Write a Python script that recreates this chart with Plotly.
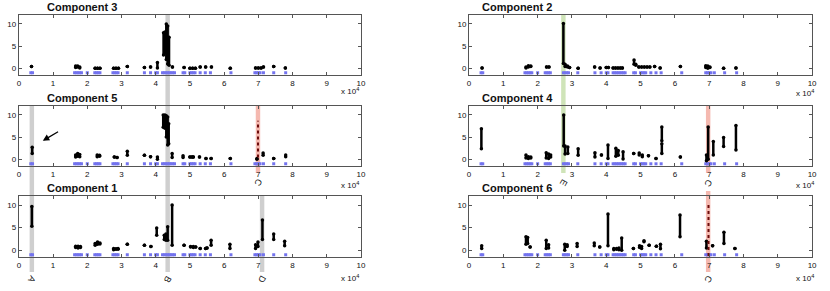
import plotly.graph_objects as go

# ---------------- data (x in units of 10^4) ----------------
X_TICKS = [0, 1, 2, 3, 4, 5, 6, 7, 8, 9, 10]
Y_TICKS = [0, 5, 10]

blue_x = [0.35, 0.40, 1.63, 1.68, 1.73, 1.78, 1.83, 2.00, 2.22, 2.27, 2.32, 2.37,
          2.75, 2.80, 2.85, 2.90, 3.17, 3.67, 3.85, 4.00, 4.05, 4.20, 4.25, 4.30,
          4.35, 4.40, 4.45, 4.50, 4.55, 4.80, 4.85, 5.00, 5.05, 5.10, 5.15, 5.30,
          5.45, 5.60, 6.20, 6.90, 6.95, 7.00, 7.05, 7.15, 7.45, 7.80]
BLUE_LEVEL = -1.0

# Component 3
c3_x  = [0.37, 1.66, 1.72, 1.78, 2.23, 2.30, 2.37, 2.77, 2.84, 2.91, 3.17, 3.67, 3.85, 4.05,
         4.23, 4.27, 4.31, 4.35, 4.39, 4.49, 4.83, 5.00, 5.08, 5.16, 5.30, 5.46, 5.63, 6.18,
         6.92, 7.00, 7.08, 7.15, 7.45, 7.79]
c3_lo = [0.4, 0.2, 0.3, 0.1, 0.0, 0.0, 0.0, 0.0, 0.0, 0.0, 0.4, 0.2, 0.3, 0.1,
         3.0, 3.5, 2.0, 1.0, 0.7, 0.3, 0.2, 0.0, 0.0, 0.0, 0.3, 0.3, 0.3, 0.0,
         0.1, 0.1, 0.1, 0.3, 0.4, 0.1]
c3_hi = [0.4, 0.5, 0.5, 0.3, 0.0, 0.0, 0.0, 0.0, 0.0, 0.0, 0.4, 0.2, 0.3, 1.3,
         8.0, 8.2, 10.0, 9.5, 7.0, 0.3, 0.2, 0.0, 0.0, 0.0, 0.3, 0.3, 0.3, 0.0,
         0.1, 0.1, 0.1, 0.3, 0.4, 0.1]

# Component 5
c5_x  = [0.39, 1.66, 1.72, 1.78, 2.29, 2.36, 2.79, 2.87, 3.17, 3.67, 3.85, 4.05,
         4.22, 4.27, 4.31, 4.35, 4.38, 4.48, 4.80, 5.00, 5.06, 5.10, 5.28, 5.47, 5.62,
         6.18, 6.96, 7.14, 7.45, 7.80]
c5_lo = [1.3, 0.5, 0.7, 0.6, 0.6, 0.7, 0.5, 0.4, 0.9, 0.9, 0.6, 0.0,
         7.2, 7.0, 5.0, 3.2, 3.5, 0.4, 0.4, 0.5, 0.5, 0.5, 0.5, 0.2, 0.2,
         0.2, 0.0, 0.9, 0.2, 0.6]
c5_hi = [2.7, 1.0, 1.3, 1.1, 1.0, 0.9, 0.5, 0.4, 1.8, 0.9, 0.6, 0.5,
         10.0, 10.0, 9.8, 9.5, 8.0, 1.3, 0.8, 0.5, 0.5, 0.5, 0.5, 0.2, 0.2,
         0.2, 0.2, 1.4, 0.2, 1.0]
c5_hl_x, c5_hl_lo, c5_hl_hi = [6.99], [0.4], [8.7]

# Component 1
c1_x  = [0.38, 1.66, 1.73, 1.80, 2.23, 2.30, 2.37, 2.77, 2.84, 2.90, 3.17, 3.67, 3.86,
         4.03, 4.25, 4.30, 4.35, 4.48, 4.83, 5.02, 5.10, 5.17, 5.30, 5.46, 5.50, 5.62,
         6.17, 6.92, 6.99, 7.12, 7.45, 7.77]
c1_lo = [5.3, 0.6, 0.5, 0.6, 1.1, 1.3, 1.4, 0.1, 0.2, 0.2, 1.3, 1.1, 0.8,
         3.3, 2.4, 2.2, 2.2, 1.1, 1.1, 0.7, 0.6, 0.7, 0.4, 0.4, 0.5, 1.1,
         0.4, 0.4, 0.8, 2.4, 2.4, 1.0]
c1_hi = [9.7, 0.9, 0.9, 0.8, 1.5, 1.8, 1.6, 0.4, 0.3, 0.4, 1.3, 1.1, 0.8,
         4.9, 3.3, 3.6, 5.2, 10.0, 1.1, 0.8, 0.8, 0.7, 0.4, 0.4, 0.5, 2.2,
         1.3, 1.2, 1.8, 6.7, 3.6, 2.0]

# Component 2
c2_x  = [0.38, 1.66, 1.73, 1.80, 2.26, 2.33, 2.75, 2.80, 2.87, 2.93, 3.18, 3.66, 3.82,
         4.00, 4.06, 4.20, 4.27, 4.34, 4.41, 4.47, 4.81, 4.86, 4.95, 5.03, 5.11, 5.19,
         5.27, 5.41, 5.57, 6.16, 6.90, 6.96, 7.02, 7.42, 7.78]
c2_lo = [0.1, 0.1, 0.3, 0.4, 0.3, 0.3, 1.1, 0.4, 0.3, 0.2, 0.0, 0.3, 0.1,
         0.2, 0.2, 0.1, 0.1, 0.1, 0.1, 0.1, 0.9, 0.7, 0.3, 0.3, 0.3, 0.3,
         0.3, 0.4, 0.1, 0.4, 0.2, 0.0, 0.2, 0.0, 0.1]
c2_hi = [0.1, 0.3, 0.6, 0.5, 0.3, 0.3, 10.1, 0.9, 0.5, 0.2, 0.0, 0.3, 0.1,
         0.2, 0.2, 0.1, 0.1, 0.1, 0.1, 0.1, 1.9, 0.9, 0.3, 0.3, 0.3, 0.3,
         0.3, 0.4, 0.1, 0.4, 0.6, 0.5, 0.3, 0.0, 0.1]

# Component 4
c4_x  = [0.36, 1.66, 1.73, 1.80, 2.25, 2.32, 2.38, 2.76, 2.80, 2.88, 3.18, 3.67, 3.86,
         4.05, 4.28, 4.35, 4.49, 4.80, 4.96, 5.05, 5.23, 5.45, 5.62, 5.62, 6.16,
         6.92, 6.97, 7.12, 7.42, 7.78]
c4_lo = [2.4, 0.3, 0.2, 0.3, 0.3, 0.2, 0.5, 3.0, 1.2, 1.3, 0.9, 0.5, 1.0,
         0.2, 0.7, 0.9, 0.1, 1.3, 1.0, 0.6, 0.8, 0.2, 1.3, 4.2, 0.5,
         -0.3, 0.0, 1.0, 2.9, 2.1]
c4_hi = [6.9, 1.0, 0.6, 0.5, 1.5, 1.2, 1.0, 10.0, 3.0, 2.8, 2.4, 1.5, 1.0,
         3.2, 2.5, 2.0, 1.7, 1.3, 1.4, 1.0, 0.8, 0.2, 3.5, 7.3, 0.5,
         1.0, 7.3, 4.0, 4.9, 7.6]

# Component 6
c6_x  = [0.37, 1.66, 1.71, 1.78, 2.25, 2.32, 2.79, 2.86, 3.15, 3.65, 3.81, 4.05,
         4.22, 4.30, 4.37, 4.45, 4.79, 4.97, 5.03, 5.10, 5.25, 5.46, 5.58,
         6.15, 6.92, 7.10, 7.43, 7.75]
c6_lo = [0.4, 1.3, 1.5, 0.7, 0.4, 0.5, 0.0, 0.8, 0.8, 1.0, 0.7, 1.0,
         0.1, 0.2, 0.1, 0.0, 0.4, 0.6, 0.4, 1.9, 1.1, 0.9, 0.3,
         3.0, 0.5, 1.0, 1.5, 0.4]
c6_hi = [1.0, 3.0, 2.8, 0.7, 2.2, 1.2, 1.3, 1.2, 1.5, 1.6, 0.7, 8.0,
         0.4, 0.4, 0.5, 2.7, 0.4, 1.0, 0.8, 2.1, 1.1, 0.9, 1.3,
         7.8, 2.0, 1.0, 4.0, 0.4]
c6_hl_x, c6_hl_lo, c6_hl_hi = [6.98], [-1.3], [10.0]

titles = ["Component 3", "Component 2", "Component 5",
          "Component 4", "Component 1", "Component 6"]

# highlighted bands: (panel column, x centre, colour name, top row, bottom row, label)
band_col   = ["L", "L", "L", "L", "R", "R", "R"]
band_x     = [0.38, 4.35, 7.11, 6.99, 2.75, 6.97, 6.97]
band_kind  = ["gray", "gray", "gray", "red", "green", "red", "red"]
band_top   = [2, 1, 3, 2, 1, 2, 3]
band_bot   = [3, 3, 3, 2, 2, 2, 3]
band_label = ["A", "B", "D", "C", "E", "C", "C"]

# ---------------- layout geometry ----------------
W, H = 830, 291
FONT = "Liberation Sans, Arial, Helvetica, sans-serif"
col_px = {"L": (17, 362), "R": (471, 817)}
row_px = {1: (15, 75), 2: (106, 166), 3: (196, 257)}
band_colors = {"gray": "#cfcfcf", "red": "#f5b9b0", "green": "#cfe4b8"}
xlab_off = {("L", 1): 16, ("R", 1): 18, ("L", 2): 19, ("R", 2): 19,
            ("L", 3): 21, ("R", 3): 21}

def px2x(p):
    return p / W

def px2y(p):
    return 1 - p / H

panels = [("L", 1), ("R", 1), ("L", 2), ("R", 2), ("L", 3), ("R", 3)]
series = [(c3_x, c3_lo, c3_hi), (c2_x, c2_lo, c2_hi), (c5_x, c5_lo, c5_hi),
          (c4_x, c4_lo, c4_hi), (c1_x, c1_lo, c1_hi), (c6_x, c6_lo, c6_hi)]
highlights = [None, None, (c5_hl_x, c5_hl_lo, c5_hl_hi), None, None,
              (c6_hl_x, c6_hl_lo, c6_hl_hi)]


def seg_xy(xs, lo, hi):
    X, Y = [], []
    for x, a, b in zip(xs, lo, hi):
        X += [x, x, None]
        Y += [a, b, None]
    return X, Y


fig = go.Figure()
layout = dict(
    width=W, height=H, margin=dict(l=0, r=0, t=0, b=0),
    paper_bgcolor="white", plot_bgcolor="white", showlegend=False,
    hovermode=False, font=dict(family=FONT, size=8, color="#111"),
)
annotations = []
shapes = []

for i, ((col, row), (xs, lo, hi), title) in enumerate(zip(panels, series, titles)):
    n = i + 1
    xa = "x" if n == 1 else f"x{n}"
    ya = "y" if n == 1 else f"y{n}"
    c0, c1 = col_px[col]
    r0, r1 = row_px[row]
    axis_common = dict(showgrid=False, zeroline=False, showline=True, linecolor="#555",
                       linewidth=1, mirror="ticks", ticks="inside", ticklen=3,
                       tickcolor="#555", tickfont=dict(size=8, family=FONT, color="#111"))
    layout["xaxis" if n == 1 else f"xaxis{n}"] = dict(
        domain=[px2x(c0), px2x(c1)], range=[0, 10], tickvals=X_TICKS,
        anchor=ya, **axis_common)
    layout["yaxis" if n == 1 else f"yaxis{n}"] = dict(
        domain=[px2y(r1), px2y(r0)], range=[-1.5, 12], tickvals=Y_TICKS,
        anchor=xa, **axis_common)

    # blue markers
    fig.add_trace(go.Scatter(x=blue_x, y=[BLUE_LEVEL] * len(blue_x), mode="markers",
                             marker=dict(symbol="square", size=3, color="#7373ee"),
                             xaxis=xa, yaxis=ya))
    # black data streaks
    X, Y = seg_xy(xs, lo, hi)
    fig.add_trace(go.Scatter(x=X, y=Y, mode="lines+markers",
                             line=dict(color="black", width=2.5),
                             marker=dict(size=3.5, color="black"),
                             xaxis=xa, yaxis=ya))
    hl = highlights[i]
    if hl is not None:
        X, Y = seg_xy(*hl)
        fig.add_trace(go.Scatter(x=X, y=Y, mode="lines",
                                 line=dict(color="#6b0c0c", width=2, dash="dot"),
                                 xaxis=xa, yaxis=ya))

    # title
    annotations.append(dict(text=f"<b>{title}</b>", xref="paper", yref="paper",
                            x=px2x(c0 + 26 if col == "L" else c0 + 11),
                            y=px2y(r0 - 8), xanchor="left", yanchor="middle",
                            showarrow=False, font=dict(size=11, family=FONT, color="#111")))
    # x 10^4
    annotations.append(dict(text="x 10<sup>4</sup>", xref="paper", yref="paper",
                            x=px2x(c1 + (0 if col == "L" else 4)),
                            y=px2y(r1 + xlab_off[(col, row)]),
                            xanchor="right", yanchor="middle", showarrow=False,
                            font=dict(size=8, family=FONT, color="#111")))

# bands
panel_axis = {("L", 1): "x", ("R", 1): "x2", ("L", 2): "x3",
              ("R", 2): "x4", ("L", 3): "x5", ("R", 3): "x6"}
BAND_HALF = 0.065
for col, bx, kind, top, bot, lab in zip(band_col, band_x, band_kind, band_top,
                                         band_bot, band_label):
    xref = panel_axis[(col, bot)]
    y_top = row_px[top][0] if not (col == "R" and kind == "red" and top == 3) else row_px[3][0] - 5
    y_bot = row_px[bot][1] + (15 if bot == 3 else 7)
    shapes.append(dict(type="rect", xref=xref, yref="paper", x0=bx - BAND_HALF,
                       x1=bx + BAND_HALF, y0=px2y(y_bot), y1=px2y(y_top),
                       fillcolor=band_colors[kind], line=dict(width=0), layer="below"))
    annotations.append(dict(text=lab, xref=xref, yref="paper", x=bx,
                            y=px2y(row_px[bot][1] + (22 if bot == 3 else 17)),
                            showarrow=False, textangle=120, xanchor="center",
                            yanchor="middle", font=dict(size=9, family=FONT, color="#111")))

# arrow in Component 5
annotations.append(dict(x=0.70, y=4.2, ax=1.19, ay=6.4, xref="x3", yref="y3",
                        axref="x3", ayref="y3", showarrow=True, arrowhead=2,
                        arrowsize=1, arrowwidth=1.3, arrowcolor="black", text=""))

layout["annotations"] = annotations
layout["shapes"] = shapes
fig.update_layout(**layout)
fig.write_html("out.html", config={"displayModeBar": False, "staticPlot": True},
               post_script="document.body.style.margin='0px';document.body.style.padding='0px';")
